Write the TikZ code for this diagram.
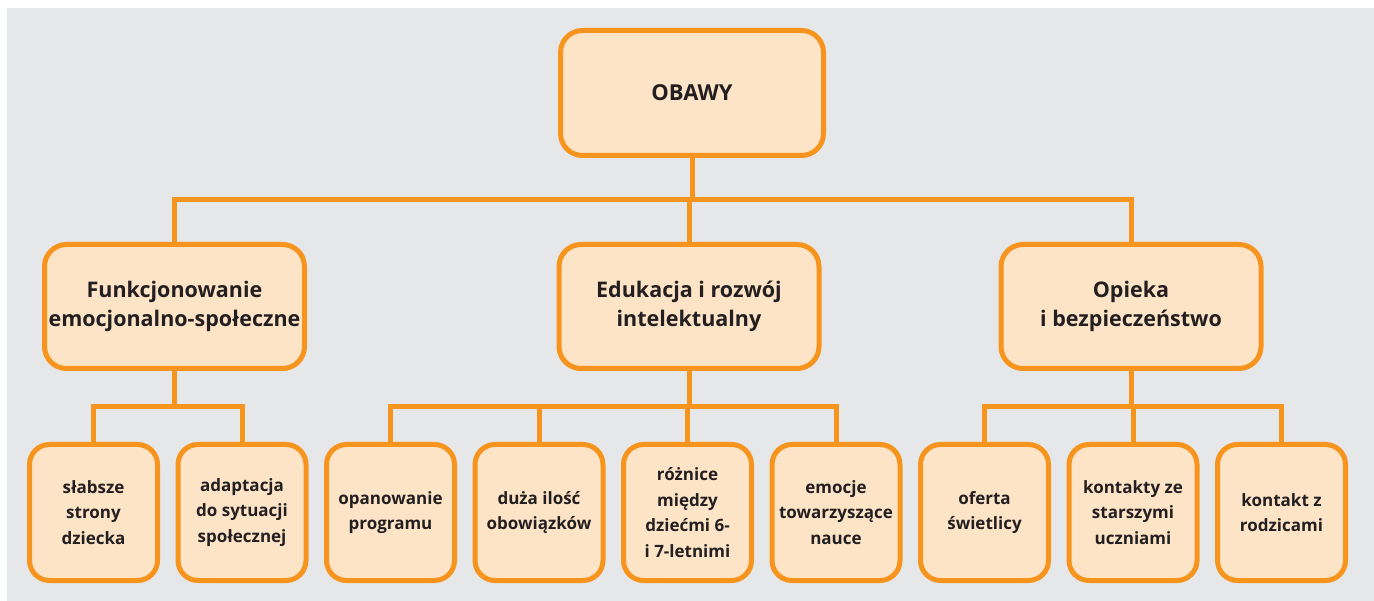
\documentclass[tikz,border=0pt]{standalone}
\usepackage{fontspec}
\setmainfont{Open Sans}
\usetikzlibrary{positioning}
\definecolor{obawyorange}{HTML}{F7941D}
\definecolor{obawyfill}{HTML}{FDE4C7}
\definecolor{obawygray}{HTML}{E6E7E8}
\definecolor{obawytext}{HTML}{231F20}
\tikzset{
  obawybox/.style={draw=obawyorange, fill=obawyfill, line width=5pt,
    rounded corners=22pt, align=center, text=obawytext},
  rootbox/.style={obawybox, minimum width=263pt, minimum height=125pt,
    font=\fontsize{22}{26}\selectfont\bfseries},
  grupabox/.style={obawybox, minimum width=260pt, minimum height=124pt,
    font=\fontsize{21.5}{29.5}\selectfont\bfseries},
  leafbox/.style={obawybox, minimum width=128pt, minimum height=136pt,
    rounded corners=20pt, inner sep=2pt, font=\fontsize{17}{25.5}\selectfont\bfseries},
  obawylink/.style={draw=obawyorange, line width=5pt}
}

\begin{document}
\begin{tikzpicture}[x=1pt, y=-1pt, node distance=15.5pt]
    \useasboundingbox (0,0) rectangle (1374,601);
    \fill[obawygray] (7,8) rectangle (1374,601);
    \node[rootbox] (obawy) at (692,93) {OBAWY};
    \node[grupabox] (funkcj) at (174.5,306.5) {Funkcjonowanie\\emocjonalno-społeczne};
    \node[grupabox] (eduk) at (689,306.5) {Edukacja i rozwój\\intelektualny};
    \node[grupabox] (opieka) at (1131,306.5) {Opieka\\i bezpieczeństwo};
    \node[leafbox] (slabsze) at (93.5,512.5) {słabsze\\strony\\dziecka};
    \node[leafbox, right=of slabsze] (adaptacja) {adaptacja\\do sytuacji\\społecznej};
    \node[leafbox, right=of adaptacja] (program) {opanowanie\\programu};
    \node[leafbox, right=of program] (obowiazki) {duża ilość\\obowiązków};
    \node[leafbox, right=of obowiazki] (roznice) {różnice\\między\\dziećmi 6-\\i 7-letnimi};
    \node[leafbox, right=of roznice] (emocje) {emocje\\towarzyszące\\nauce};
    \node[leafbox, right=of emocje] (swietlica) {oferta\\świetlicy};
    \node[leafbox, right=of swietlica] (starsi) {kontakty ze\\starszymi\\uczniami};
    \node[leafbox, right=of starsi] (rodzice) {kontakt z\\rodzicami};
    % root to groups
    \draw[obawylink] (obawy.south) -- ++(0,42) -| (funkcj.north);
    \draw[obawylink] (obawy.south) -- ++(0,42) -| (eduk.north);
    \draw[obawylink] (obawy.south) -- ++(0,42) -| (opieka.north);
    % groups to leaves
    \draw[obawylink] (funkcj.south) -- ++(0,36) -| (slabsze.north);
    \draw[obawylink] (funkcj.south) -- ++(0,36) -| (adaptacja.north);
    \draw[obawylink] (eduk.south) -- ++(0,36) -| (program.north);
    \draw[obawylink] (eduk.south) -- ++(0,36) -| (obowiazki.north);
    \draw[obawylink] (eduk.south) -- ++(0,36) -| (roznice.north);
    \draw[obawylink] (eduk.south) -- ++(0,36) -| (emocje.north);
    \draw[obawylink] (opieka.south) -- ++(0,36) -| (swietlica.north);
    \draw[obawylink] (opieka.south) -- ++(0,36) -| (starsi.north);
    \draw[obawylink] (opieka.south) -- ++(0,36) -| (rodzice.north);
\end{tikzpicture}
\end{document}
